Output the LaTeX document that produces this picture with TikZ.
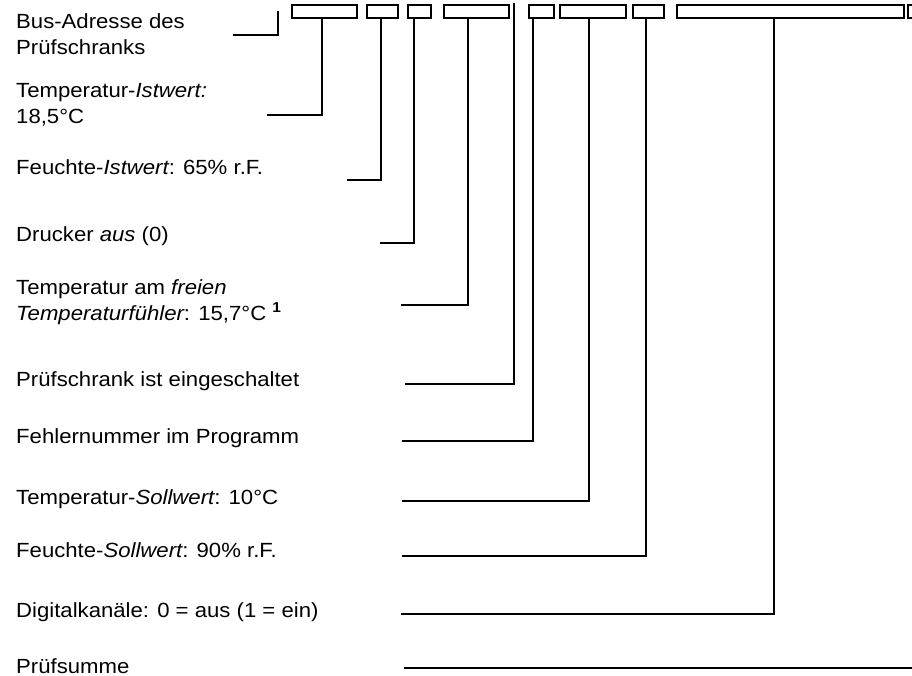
\documentclass[tikz,border=0pt]{standalone}
\usepackage{fontspec}
\setmainfont{Liberation Sans}[FakeStretch=1.08]
\begin{document}
\begin{tikzpicture}[x=1pt,y=-1pt,
  lbl/.style={anchor=base west, inner sep=0pt, font=\fontsize{20.5}{26}\selectfont, align=left},
  slot/.style={draw, line width=2pt, minimum height=13pt, inner sep=0pt, anchor=north west},
  lead/.style={line width=2pt}]
\useasboundingbox (0,0) rectangle (912,676);
% slots
\node[slot, minimum width=65pt]  (b1) at (291,4) {};
\node[slot, minimum width=31pt]  (b2) at (366,4) {};
\node[slot, minimum width=23pt]  (b3) at (407,4) {};
\node[slot, minimum width=65pt]  (b4) at (443,4) {};
\node[slot, minimum width=25pt]  (b5) at (528,4) {};
\node[slot, minimum width=66pt]  (b6) at (559,4) {};
\node[slot, minimum width=31pt]  (b7) at (632,4) {};
\node[slot, minimum width=227pt] (b8) at (676,4) {};
\node[slot, minimum width=20pt]  (b9) at (907,4) {};
% labels (base anchor = baseline of last line)
\node[lbl] (l0) at (16,55) {Bus-Adresse des\\Prüfschranks};
\node[lbl] (l1) at (16,124) {Temperatur-{\itshape Istwert:}\\18,5°C};
\node[lbl] (l2) at (16,175) {Feuchte-{\itshape Istwert}: 65\% r.F.};
\node[lbl] (l3) at (16,242) {Drucker {\itshape aus} (0)};
\node[lbl] (l4) at (16,320) {Temperatur am {\itshape freien}\\{\itshape Temperaturfühler}: 15,7°C \textsuperscript{\textbf{1}}};
\node[lbl] (l5) at (16,386) {Prüfschrank ist eingeschaltet};
\node[lbl] (l6) at (16,443) {Fehlernummer im Programm};
\node[lbl] (l7) at (16,504) {Temperatur-{\itshape Sollwert}: 10°C};
\node[lbl] (l8) at (16,557) {Feuchte-{\itshape Sollwert}: 90\% r.F.};
\node[lbl] (l9) at (16,617) {Digitalkanäle: 0 = aus (1 = ein)};
\node[lbl] (l10) at (16,673) {Prüfsumme};
% free ends
\coordinate (a0) at (277.5,11);
\coordinate (e0) at (233,35);
\coordinate (e1) at (266.7,115);
\coordinate (e2) at (346.7,180);
\coordinate (e3) at (380,243);
\coordinate (e4) at (401,305);
\coordinate (a5) at (514,3);
\coordinate (e5) at (405,384);
\coordinate (e6) at (401.7,441);
\coordinate (e7) at (401.7,501);
\coordinate (e8) at (401.7,556);
\coordinate (e9) at (401,614);
\coordinate (s1) at (404,668);
\coordinate (s2) at (914,668);
% leaders
\draw[lead] (a0) |- (e0);
\draw[lead] ([xshift=30.7pt]b1.south west) |- (e1);
\draw[lead] ([xshift=14.7pt]b2.south west) |- (e2);
\draw[lead] ([xshift=6.5pt]b3.south west) |- (e3);
\draw[lead] ([xshift=25.3pt]b4.south west) |- (e4);
\draw[lead] (a5) |- (e5);
\draw[lead] ([xshift=5.3pt]b5.south west) |- (e6);
\draw[lead] ([xshift=30pt]b6.south west) |- (e7);
\draw[lead] ([xshift=14pt]b7.south west) |- (e8);
\draw[lead] ([xshift=98.3pt]b8.south west) |- (e9);
\draw[lead] (s1) -- (s2);
\end{tikzpicture}
\end{document}
